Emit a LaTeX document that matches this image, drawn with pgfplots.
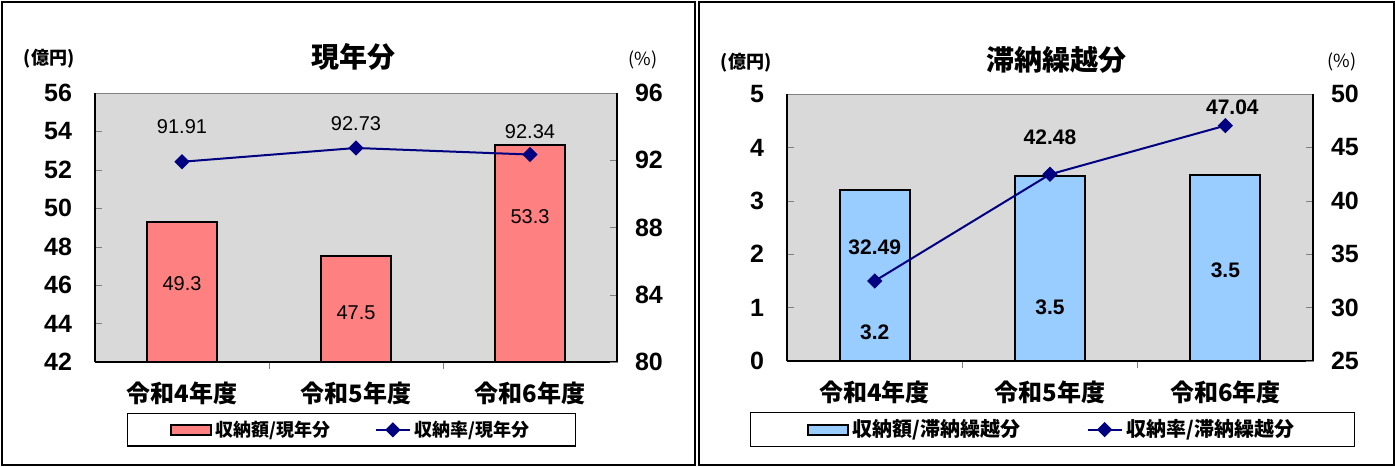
\documentclass[border=0pt]{standalone}
\usepackage{fontspec}
\setmainfont{Liberation Sans}
\newfontfamily\jp{Noto Sans CJK JP}
\usepackage{pgfplots}
\pgfplotsset{compat=1.18}

\definecolor{bggray}{HTML}{D9D9D9}
\definecolor{barred}{HTML}{FF8080}
\definecolor{barblue}{HTML}{99CCFF}
\definecolor{navy}{HTML}{000080}

\pgfplotsset{
  panel/.style={
    scale only axis,
    xmin=-0.5, xmax=2.5,
    tick align=inside,
    major tick length=3.5pt,
    /pgf/number format/assume math mode=true,
    ticklabel style={font=\fontsize{12.5}{14}\selectfont\bfseries},
    clip=false,
  },
  barax/.style={
    panel,
    axis background/.style={fill=bggray, draw=gray},
    axis x line*=bottom, axis y line*=left,
    x axis line style={line width=1pt, -},
    y axis line style={line width=0.7pt, -},
    xtick={0,1,2},
    xticklabels={令和4年度,令和5年度,令和6年度},
    xticklabel style={font=\jp\bfseries\fontsize{12}{14}\selectfont, yshift=-3pt},
    major x tick style={draw=none},
    minor xtick={0.5,1.5},
    minor tick length=3.5pt,
    yticklabel style={xshift=-8pt},
    ybar, bar width=35pt,
  },
  lineax/.style={
    panel,
    axis y line*=right, axis x line=none,
    y axis line style={line width=0.7pt, -},
    yticklabel style={xshift=5.5pt},
    legend columns=2,
    legend cell align=left,
  },
  barentry/.style={legend image code/.code={
    \draw[fill=#1, draw=black, line width=1pt] (0pt,-2.5pt) rectangle (20pt,2.5pt);}},
  lineentry/.style={legend image code/.code={
    \draw[navy, line width=1pt] (0pt,0pt) -- (20pt,0pt);
    \fill[navy] (10pt,0pt) ++(-3pt,0pt) -- ++(3pt,3pt) -- ++(3pt,-3pt) -- ++(-3pt,-3pt) -- cycle;}},
}

\begin{document}
\begin{tikzpicture}
\useasboundingbox (0pt,0pt) rectangle (697.5pt,-233pt);

% ---- left panel: current year ----
\begin{axis}[barax, at={(47.5pt,-181pt)}, anchor=south west,
  width=261pt, height=134.5pt,
  ymin=42, ymax=56, ytick={42,44,...,56}]
\addplot[fill=barred, draw=black, line width=1pt] coordinates {(0,49.3) (1,47.5) (2,53.3)};
\node[font=\fontsize{10}{12}\selectfont] at (axis cs:0,46.1) {49.3};
\node[font=\fontsize{10}{12}\selectfont] at (axis cs:1,44.55) {47.5};
\node[font=\fontsize{10}{12}\selectfont] at (axis cs:2,49.55) {53.3};
\end{axis}
\begin{axis}[lineax, at={(47.5pt,-181pt)}, anchor=south west,
  width=261pt, height=134.5pt,
  ymin=80, ymax=96, ytick={80,84,...,96},
  legend style={at={(0.492,0)}, anchor=north, yshift=-25.5pt,
    draw=black, line width=0.6pt, inner xsep=21pt, inner ysep=1.5pt,
    font=\jp\bfseries\fontsize{9}{11}\selectfont,
    /tikz/every even column/.append style={column sep=20pt}}]
\addlegendimage{barentry=barred}
\addlegendentry{収納額/現年分}
\addplot[navy, line width=1pt, mark=square*, mark size=2.2pt, mark options={rotate=45}]
  coordinates {(0,91.91) (1,92.73) (2,92.34)};
\addlegendentry{収納率/現年分}
\node[font=\fontsize{10}{12}\selectfont] at (axis cs:0,93.98) {91.91};
\node[font=\fontsize{10}{12}\selectfont] at (axis cs:1,94.2) {92.73};
\node[font=\fontsize{10}{12}\selectfont] at (axis cs:2,93.68) {92.34};
\end{axis}

% ---- right panel: arrears ----
\begin{axis}[barax, at={(393.5pt,-180.5pt)}, anchor=south west,
  width=263pt, height=133.5pt,
  ymin=0, ymax=5, ytick={0,1,...,5}]
\addplot[fill=barblue, draw=black, line width=1pt] coordinates {(0,3.2) (1,3.47) (2,3.49)};
\node[font=\fontsize{10.5}{12}\selectfont\bfseries] at (axis cs:0,0.54) {3.2};
\node[font=\fontsize{10.5}{12}\selectfont\bfseries] at (axis cs:1,1.01) {3.5};
\node[font=\fontsize{10.5}{12}\selectfont\bfseries] at (axis cs:2,1.70) {3.5};
\end{axis}
\begin{axis}[lineax, at={(393.5pt,-180.5pt)}, anchor=south west,
  width=263pt, height=133.5pt,
  ymin=25, ymax=50, ytick={25,30,...,50},
  legend style={at={(0.505,0)}, anchor=north, yshift=-25.5pt,
    draw=black, line width=0.6pt, inner xsep=28pt, inner ysep=1.5pt,
    font=\jp\bfseries\fontsize{10}{12}\selectfont,
    /tikz/every even column/.append style={column sep=31pt}}]
\addlegendimage{barentry=barblue}
\addlegendentry{収納額/滞納繰越分}
\addplot[navy, line width=1pt, mark=square*, mark size=2.2pt, mark options={rotate=45}]
  coordinates {(0,32.49) (1,42.48) (2,47.04)};
\addlegendentry{収納率/滞納繰越分}
\node[font=\fontsize{10.5}{12}\selectfont\bfseries] at (axis cs:0,35.67) {32.49};
\node[font=\fontsize{10.5}{12}\selectfont\bfseries] at (axis cs:1,45.97) {42.48};
\node[font=\fontsize{10.5}{12}\selectfont\bfseries] at (axis cs:2.04,48.78) {47.04};
\end{axis}

% ---- frames, titles, unit labels (pixel coordinates) ----
\begin{scope}[x=0.5pt, y=-0.5pt]
\draw[line width=1pt] (1.5,1.5) rectangle (695,464.5);
\draw[line width=1pt] (698.5,1.5) rectangle (1393.5,464.5);
\node[font=\jp\bfseries\fontsize{14}{16}\selectfont] at (353,57) {現年分};
\node[font=\jp\bfseries\fontsize{14}{16}\selectfont] at (1056,60) {滞納繰越分};
\node[font=\jp\bfseries\fontsize{9}{11}\selectfont] at (49,59) {(億円)};
\node[font=\jp\bfseries\fontsize{9}{11}\selectfont] at (746,63) {(億円)};
\node[font=\jp\fontsize{9}{11}\selectfont] at (643,60) {(\%)};
\node[font=\jp\fontsize{9}{11}\selectfont] at (1342,62) {(\%)};
\end{scope}
\end{tikzpicture}
\end{document}
